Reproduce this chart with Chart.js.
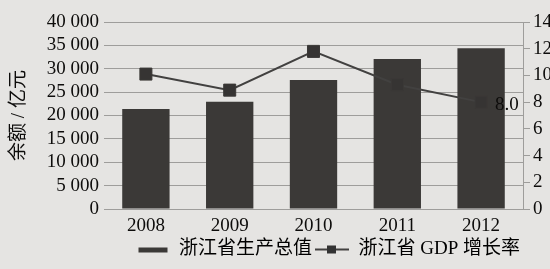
<!DOCTYPE html>
<html>
<head>
<meta charset="utf-8">
<script src="https://cdn.jsdelivr.net/npm/chart.js@4"></script>
<style>
  html, body { margin: 0; padding: 0; background: #e5e4e2; }
  #wrap { width: 550px; height: 269px; position: relative; }
</style>
</head>
<body>
<div id="wrap"><canvas id="myChart"></canvas></div>
<script>
const years = ['2008', '2009', '2010', '2011', '2012'];
const gdpValues = [21400, 22950, 27600, 32100, 34400];
const growthRates = [10.1, 8.9, 11.8, 9.3, 8.0];
const seriesNames = ['浙江省生产总值', '浙江省 GDP 增长率'];
const yTitle = '余额 / 亿元';

const serif = "'Liberation Serif', 'Noto Sans CJK SC', serif";
const textColor = '#0d0c0b';
const gridColor = '#9e9d9b';
const barColor = '#3b3937';
const lineColor = '#424140';

// legend swatches: bar strip, line with square marker
function swatch(kind) {
  const c = document.createElement('canvas');
  c.width = 34;
  c.height = 12;
  const ctx = c.getContext('2d');
  if (kind === 'bar') {
    ctx.fillStyle = barColor;
    ctx.fillRect(3, 4, 29, 5);
  } else {
    ctx.strokeStyle = lineColor;
    ctx.lineWidth = 2;
    ctx.beginPath();
    ctx.moveTo(0, 6);
    ctx.lineTo(34, 6);
    ctx.stroke();
    ctx.fillStyle = '#333';
    ctx.fillRect(12, 2, 9, 8);
  }
  return c;
}

const endLabel = {
  id: 'endLabel',
  afterDatasetsDraw(chart) {
    const meta = chart.getDatasetMeta(1);
    const last = growthRates.length - 1;
    const pt = meta.data[last];
    const ctx = chart.ctx;
    ctx.save();
    ctx.font = '19px ' + serif;
    ctx.fillStyle = textColor;
    ctx.textAlign = 'left';
    ctx.textBaseline = 'middle';
    ctx.fillText(growthRates[last].toFixed(1), pt.x + 14, pt.y + 3);
    ctx.restore();
  }
};

const chart = new Chart(document.getElementById('myChart'), {
  type: 'bar',
  data: {
    labels: years,
    datasets: [
      {
        type: 'bar',
        label: seriesNames[0],
        yAxisID: 'y',
        data: gdpValues,
        backgroundColor: barColor,
        categoryPercentage: 1,
        barPercentage: 0.565,
        order: 2,
      },
      {
        type: 'line',
        label: seriesNames[1],
        yAxisID: 'y2',
        data: growthRates,
        borderColor: lineColor,
        borderWidth: 2,
        pointStyle: 'rect',
        pointRadius: 8.5,
        pointBackgroundColor: '#363433',
        pointBorderColor: '#3b3937',
        pointBorderWidth: 1,
        tension: 0,
        order: 1,
      },
    ],
  },
  options: {
    responsive: true,
    maintainAspectRatio: false,
    animation: false,
    layout: { padding: { top: 22, left: 0, right: 0, bottom: 0 } },
    plugins: {
      tooltip: { enabled: false },
      legend: {
        position: 'bottom',
        align: 'end',
        fullSize: false,
        labels: {
          usePointStyle: true,
          pointStyleWidth: 34,
          padding: 3,
          color: textColor,
          font: { family: serif, size: 19 },
          generateLabels: () => [
            { text: seriesNames[0], pointStyle: swatch('bar'), datasetIndex: 0, lineWidth: 0 },
            { text: seriesNames[1], pointStyle: swatch('line'), datasetIndex: 1, lineWidth: 0 },
          ],
        },
      },
    },
    scales: {
      x: {
        grid: { display: false, drawTicks: false },
        border: { display: false },
        ticks: { color: textColor, font: { family: serif, size: 19 }, padding: 6 },
        afterFit: (scale) => { scale.height = 28; },
      },
      y: {
        position: 'left',
        min: 0,
        max: 40000,
        ticks: {
          stepSize: 5000,
          autoSkip: false,
          padding: 5,
          color: textColor,
          font: { family: serif, size: 19 },
          callback: (v) => v >= 1000 ? Math.floor(v / 1000) + ' ' + String(v % 1000).padStart(3, '0') : String(v),
        },
        grid: { color: gridColor, lineWidth: 1, drawTicks: false },
        border: { display: false },
        title: {
          display: true,
          text: yTitle,
          color: textColor,
          font: { family: serif, size: 19 },
          padding: { top: 8, bottom: 0 },
        },
        afterFit: (scale) => { scale.width = 104; },
      },
      y2: {
        position: 'right',
        min: 0,
        max: 14,
        ticks: {
          stepSize: 2,
          autoSkip: false,
          padding: 3,
          color: textColor,
          font: { family: serif, size: 19 },
        },
        grid: { drawOnChartArea: false, drawTicks: true, tickLength: 7, color: gridColor },
        border: { display: true, color: gridColor },
        afterFit: (scale) => { scale.width = 27; },
      },
    },
  },
  plugins: [endLabel],
});
</script>
</body>
</html>
